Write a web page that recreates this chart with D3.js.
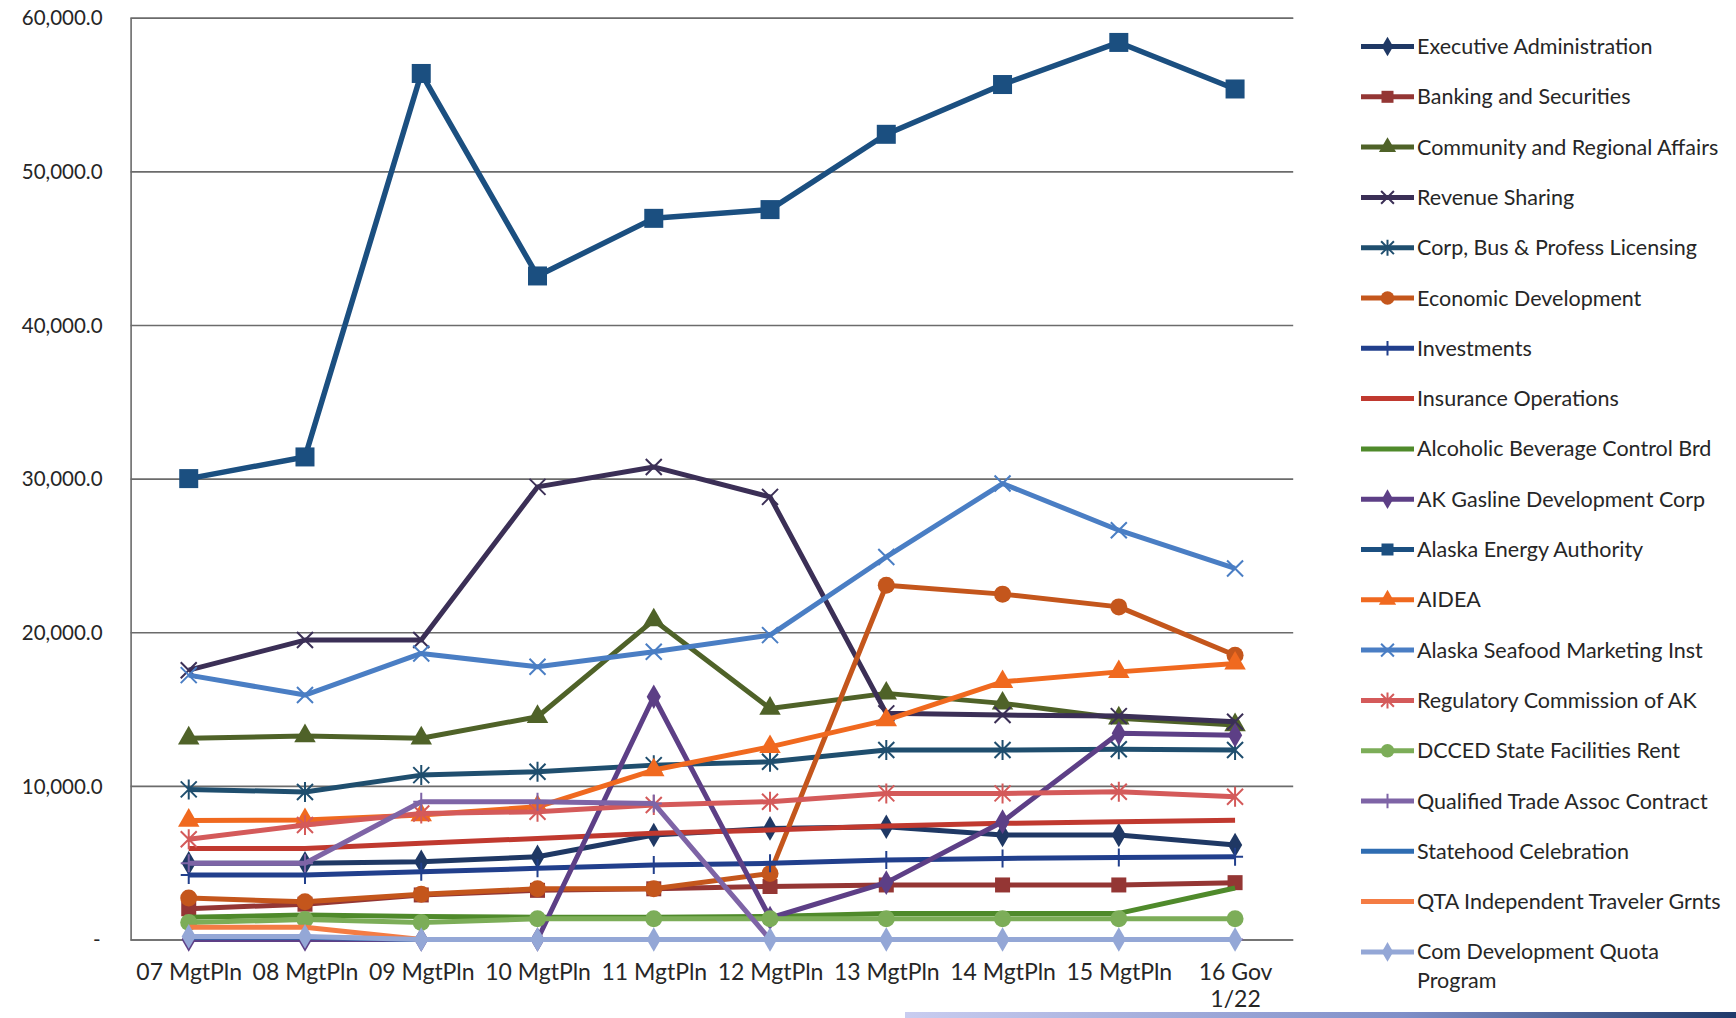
<!DOCTYPE html>
<html>
<head>
<meta charset="utf-8">
<script src="https://cdn.jsdelivr.net/npm/d3@7"></script>
<style>
  html, body { margin: 0; padding: 0; background: #ffffff; }
  svg { display: block; }
  text { font-family: Lato, "Open Sans", sans-serif; fill: #262626; }
</style>
</head>
<body>
<svg id="chart" width="1736" height="1018"></svg>
<script>
// ---------- data ----------
const categories = ["07 MgtPln", "08 MgtPln", "09 MgtPln", "10 MgtPln", "11 MgtPln",
                    "12 MgtPln", "13 MgtPln", "14 MgtPln", "15 MgtPln", "16 Gov 1/22"];
const categoryLabelLines = [["07 MgtPln"], ["08 MgtPln"], ["09 MgtPln"], ["10 MgtPln"], ["11 MgtPln"],
                            ["12 MgtPln"], ["13 MgtPln"], ["14 MgtPln"], ["15 MgtPln"], ["16 Gov", "1/22"]];
const yTicks = [0, 10000, 20000, 30000, 40000, 50000, 60000];

const seriesNames = [
  "Executive Administration", "Banking and Securities", "Community and Regional Affairs",
  "Revenue Sharing", "Corp, Bus & Profess Licensing", "Economic Development", "Investments",
  "Insurance Operations", "Alcoholic Beverage Control Brd", "AK Gasline Development Corp",
  "Alaska Energy Authority", "AIDEA", "Alaska Seafood Marketing Inst",
  "Regulatory Commission of AK", "DCCED State Facilities Rent", "Qualified Trade Assoc Contract",
  "Statehood Celebration", "QTA Independent Traveler Grnts", "Com Development Quota Program"
];

const executiveAdministration = [4960, 4960, 5060, 5390, 6800, 7230, 7340, 6800, 6800, 6150];
const bankingSecurities       = [2000, 2300, 2900, 3200, 3300, 3450, 3550, 3550, 3550, 3700];
const communityRegional       = [13100, 13250, 13100, 14500, 20790, 15040, 16020, 15370, 14400, 13960];
const revenueSharing          = [17530, 19490, 19490, 29460, 30760, 28810, 14720, 14610, 14540, 14170];
const corpBusLicensing        = [9770, 9600, 10700, 10920, 11350, 11570, 12330, 12330, 12380, 12330];
const economicDevelopment     = [2700, 2450, 2950, 3300, 3300, 4300, 23060, 22480, 21650, 18500];
const investments             = [4200, 4200, 4410, 4630, 4850, 4960, 5170, 5280, 5330, 5390];
const insuranceOperations     = [5930, 5930, 6260, 6580, 6910, 7120, 7380, 7560, 7670, 7770];
const alcoholicBeverage       = [1450, 1600, 1500, 1450, 1450, 1500, 1700, 1700, 1700, 3350];
const akGasline               = [0, 0, 0, 0, 15800, 1400, 3700, 7670, 13420, 13300];
const alaskaEnergyAuthority   = [30000, 31410, 56370, 43190, 46940, 47510, 52410, 55650, 58390, 55360];
const aidea                   = [7750, 7780, 8100, 8640, 11030, 12540, 14280, 16770, 17420, 17970];
const seafoodMarketing        = [17210, 15910, 18620, 17750, 18730, 19810, 24900, 29680, 26640, 24150];
const regulatoryCommission    = [6520, 7450, 8200, 8320, 8750, 8970, 9510, 9510, 9620, 9290];
const dccedFacilitiesRent     = [1100, 1300, 1100, 1350, 1350, 1350, 1350, 1350, 1350, 1350];
const qualifiedTradeAssoc     = [4960, 4960, 8970, 8970, 8860, 0, 0, 0, 0, 0];
const statehoodCelebration    = [150, 150, 0, 0, 0, 0, 0, 0, 0, 0];
const qtaTravelerGrants       = [800, 800, 0, 0, 0, 0, 0, 0, 0, 0];
const comDevelopmentQuota     = [200, 200, 0, 0, 0, 0, 0, 0, 0, 0];

const seriesValues = [
  executiveAdministration, bankingSecurities, communityRegional, revenueSharing, corpBusLicensing,
  economicDevelopment, investments, insuranceOperations, alcoholicBeverage, akGasline,
  alaskaEnergyAuthority, aidea, seafoodMarketing, regulatoryCommission, dccedFacilitiesRent,
  qualifiedTradeAssoc, statehoodCelebration, qtaTravelerGrants, comDevelopmentQuota
];

// ---------- styling ----------
const seriesColors = [
  "#1f3864", "#943634", "#4f6228", "#3b2f56", "#1f4e6e", "#c4561c", "#213f8c",
  "#c0392f", "#4f8a2b", "#5d3f86", "#1b4f80", "#f0691f", "#4a7ec4",
  "#d45a5a", "#7cad58", "#7e64a6", "#2f6db2", "#f47c44", "#94a7d6"
];
const seriesMarkers = [
  "diamond", "square", "triangle", "x", "star", "circle", "plus",
  "none", "none", "diamond", "bigsquare", "triangle", "x",
  "star", "circle", "plus", "none", "none", "diamond"
];

const W = 1736, H = 1018;
const plot = { left: 130.6, right: 1293.2, top: 17.7, bottom: 939.5 };

const svg = d3.select("#chart");

const x = d3.scalePoint().domain(categories).range([plot.left, plot.right]).padding(0.5);
const y = d3.scaleLinear().domain([0, 60000]).range([plot.bottom, plot.top]);

const fmt = d3.format(",.1f");

// gridlines + y labels
const yAxis = d3.axisLeft(y).tickValues(yTicks).tickSize(-(plot.right - plot.left))
  .tickFormat(d => d === 0 ? "-" : fmt(d));
const gy = svg.append("g").attr("transform", `translate(${plot.left},0)`).call(yAxis);
gy.select(".domain").attr("stroke", "#6b6b6b").attr("stroke-width", 1.6);
gy.selectAll(".tick line").attr("stroke", "#6b6b6b").attr("stroke-width", 1.6);
gy.selectAll(".tick text").attr("x", -28).attr("dy", "0.35em")
  .style("font-size", "20.5px").style("fill", "#262626");
gy.selectAll(".tick text").filter(d => d === 0).attr("x", -30);

// x axis labels
const xAxis = d3.axisBottom(x).tickSize(0).tickFormat("");
const gx = svg.append("g").attr("transform", `translate(0,${plot.bottom})`).call(xAxis);
gx.select(".domain").remove();
gx.selectAll(".tick").each(function(d, i) {
  const t = d3.select(this).append("text").attr("text-anchor", "middle")
    .style("font-size", "23px").attr("y", 40);
  categoryLabelLines[i].forEach((ln, j) => {
    t.append("tspan").attr("x", 0).attr("dy", j === 0 ? 0 : 27).text(ln);
  });
});

// marker drawing
function drawMarker(g, type, color, cx, cy, scale = 1) {
  const s = scale;
  switch (type) {
    case "diamond":
      g.append("path").attr("d", d3.symbol(d3.symbolDiamond, 175 * s * s)())
        .attr("transform", `translate(${cx},${cy})`).attr("fill", color);
      break;
    case "square":
      g.append("rect").attr("x", cx - 7.5 * s).attr("y", cy - 7.5 * s).attr("width", 15 * s).attr("height", 15 * s)
        .attr("fill", color);
      break;
    case "bigsquare":
      g.append("rect").attr("x", cx - 9.5 * s).attr("y", cy - 9.5 * s).attr("width", 19 * s).attr("height", 19 * s)
        .attr("fill", color);
      break;
    case "triangle":
      g.append("path").attr("d", d3.symbol(d3.symbolTriangle, 200 * s * s)())
        .attr("transform", `translate(${cx},${cy})`).attr("fill", color);
      break;
    case "circle":
      g.append("circle").attr("cx", cx).attr("cy", cy).attr("r", 8.5 * s).attr("fill", color);
      break;
    case "x":
      g.append("path").attr("d", `M${cx - 8 * s},${cy - 8 * s}L${cx + 8 * s},${cy + 8 * s}M${cx - 8 * s},${cy + 8 * s}L${cx + 8 * s},${cy - 8 * s}`)
        .attr("stroke", color).attr("stroke-width", 2).attr("fill", "none");
      break;
    case "star":
      g.append("path").attr("d", `M${cx - 8 * s},${cy - 8 * s}L${cx + 8 * s},${cy + 8 * s}M${cx - 8 * s},${cy + 8 * s}L${cx + 8 * s},${cy - 8 * s}M${cx},${cy - 10 * s}L${cx},${cy + 10 * s}`)
        .attr("stroke", color).attr("stroke-width", 2).attr("fill", "none");
      break;
    case "plus":
      g.append("path").attr("d", `M${cx},${cy - 9 * s}L${cx},${cy + 9 * s}M${cx - 8 * s},${cy}L${cx + 8 * s},${cy}`)
        .attr("stroke", color).attr("stroke-width", 2).attr("fill", "none");
      break;
  }
}

// lines
const line = d3.line().x((d, i) => x(categories[i])).y(d => y(d));
const linesG = svg.append("g");
seriesValues.forEach((vals, si) => {
  const g = linesG.append("g");
  g.append("path").datum(vals).attr("d", line)
    .attr("fill", "none").attr("stroke", seriesColors[si])
    .attr("stroke-width", si === 10 ? 5.5 : 5).attr("stroke-linejoin", "round");
  vals.forEach((v, i) => drawMarker(g, seriesMarkers[si], seriesColors[si], x(categories[i]), y(v)));
});

// legend
const legend = svg.append("g");
const legTop = 46.5, legStep = 50.3, legX1 = 1361, legX2 = 1414, legTextX = 1417;
seriesNames.forEach((name, si) => {
  const yy = legTop + si * legStep;
  const g = legend.append("g");
  g.append("line").attr("x1", legX1).attr("x2", legX2).attr("y1", yy).attr("y2", yy)
    .attr("stroke", seriesColors[si]).attr("stroke-width", 5);
  drawMarker(g, seriesMarkers[si] === "bigsquare" ? "square" : seriesMarkers[si], seriesColors[si], (legX1 + legX2) / 2, yy, 0.8);
  const t = g.append("text").attr("x", legTextX).attr("y", yy).attr("dy", "0.35em").style("font-size", "21.5px");
  if (name === "Com Development Quota Program") {
    t.append("tspan").attr("x", legTextX).text("Com Development Quota");
    t.append("tspan").attr("x", legTextX).attr("dy", 29).text("Program");
  } else {
    t.text(name);
  }
});

// slide decoration bar at the bottom right
const defs = svg.append("defs");
const grad = defs.append("linearGradient").attr("id", "barGrad");
grad.append("stop").attr("offset", "0%").attr("stop-color", "#c9cdf0");
grad.append("stop").attr("offset", "60%").attr("stop-color", "#7f8fc8");
grad.append("stop").attr("offset", "100%").attr("stop-color", "#1f3a6b");
svg.append("rect").attr("x", 905).attr("y", 1012).attr("width", W - 905).attr("height", 6)
  .attr("fill", "url(#barGrad)");
</script>
</body>
</html>
